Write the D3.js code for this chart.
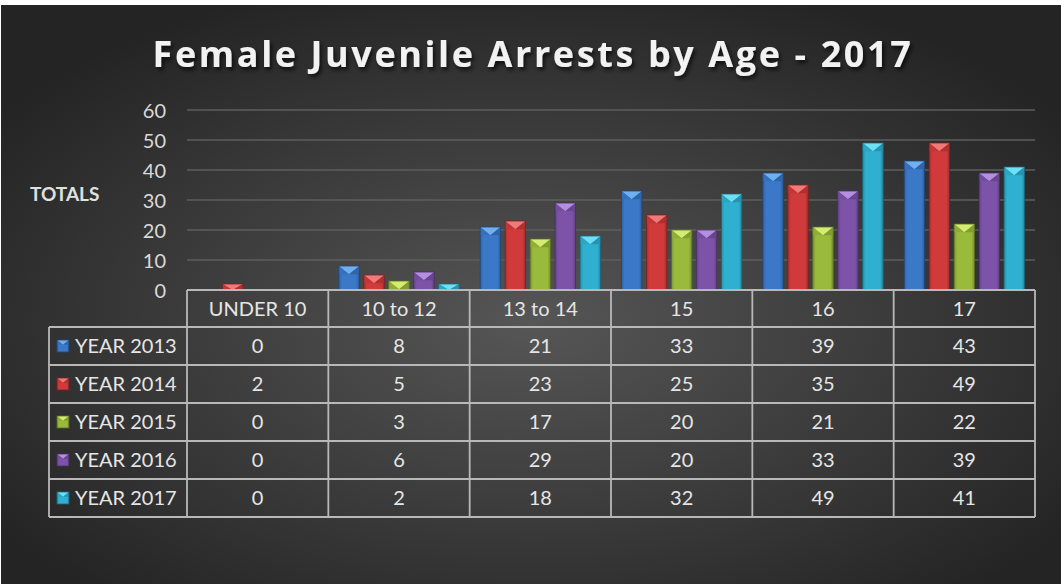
<!DOCTYPE html>
<html><head><meta charset="utf-8">
<script src="https://cdn.jsdelivr.net/npm/d3@7"></script>
<style>html,body{margin:0;padding:0;background:#fff;}svg{display:block;}</style>
</head><body>
<script>
const categories = ["UNDER 10","10 to 12","13 to 14","15","16","17"];
const seriesNames = ["YEAR 2013","YEAR 2014","YEAR 2015","YEAR 2016","YEAR 2017"];
const y2013 = [0,8,21,33,39,43];
const y2014 = [2,5,23,25,35,49];
const y2015 = [0,3,17,20,21,22];
const y2016 = [0,6,29,20,33,39];
const y2017 = [0,2,18,32,49,41];
const yTicks = [0,10,20,30,40,50,60];
const seriesValues = [y2013,y2014,y2015,y2016,y2017];
const colors = ["#3b78c8","#d03a3a","#9aba3c","#7d53a9","#2fb0d0"];
const lights = ["#6fb0f0","#f07a7a","#d4ec70","#b48ee0","#6ee0f5"];

const W=1061,H=584;
const svg=d3.select("body").append("svg").attr("width",W).attr("height",H);
const defs=svg.append("defs");
const bg=defs.append("radialGradient").attr("id","bg").attr("cx","50%").attr("cy","55%").attr("r","62%");
bg.append("stop").attr("offset","0%").attr("stop-color","#565656");
bg.append("stop").attr("offset","100%").attr("stop-color","#242424");
const sh=defs.append("filter").attr("id","sh").attr("x","-10%").attr("y","-30%").attr("width","120%").attr("height","160%");
sh.append("feDropShadow").attr("dx",2).attr("dy",3).attr("stdDeviation",2).attr("flood-color","#000").attr("flood-opacity",0.7);
colors.forEach((c,i)=>{
  const g=defs.append("linearGradient").attr("id","bar"+i).attr("x1","0").attr("x2","1").attr("y1","0").attr("y2","0");
  g.append("stop").attr("offset","0%").attr("stop-color",d3.color(c).darker(0.6));
  g.append("stop").attr("offset","15%").attr("stop-color",c);
  g.append("stop").attr("offset","85%").attr("stop-color",c);
  g.append("stop").attr("offset","100%").attr("stop-color",d3.color(c).darker(0.8));
});

svg.append("rect").attr("width",W).attr("height",H).attr("fill","#fff");
svg.append("rect").attr("x",1).attr("y",5).attr("width",W-1).attr("height",H-5).attr("fill","url(#bg)");

svg.append("text").attr("x",533).attr("y",67).attr("text-anchor","middle")
  .attr("font-family","Open Sans").attr("font-weight","bold").attr("font-size",36)
  .attr("letter-spacing",2.6).attr("fill","#f2f2f2").attr("filter","url(#sh)")
  .text("Female Juvenile Arrests by Age - 2017");

const left=187,right=1035,top0=110,base=290;
const x=d3.scaleBand().domain(categories).range([left,right]).padding(0);
const x1=d3.scaleBand().domain(seriesNames).range([0,x.bandwidth()]).paddingInner(0.18).paddingOuter(0.42);
const y=d3.scaleLinear().domain([0,60]).range([base,top0]);

const grid=svg.append("g");
grid.selectAll("line").data(yTicks.slice(1)).join("line")
  .attr("x1",left).attr("x2",right).attr("y1",d=>y(d)).attr("y2",d=>y(d))
  .attr("stroke","#5e5e5e").attr("stroke-width",1.5);

const yAxis=d3.axisLeft(y).tickValues(yTicks).tickSize(0).tickPadding(0);
const ya=svg.append("g").attr("transform","translate(166,0)").call(yAxis);
ya.select(".domain").remove();
ya.selectAll("text").attr("font-family","Lato").attr("font-size",20).attr("fill","#d9d9d9").attr("dy","0.35em");

svg.append("text").attr("x",30).attr("y",201).attr("font-family","Lato").attr("font-weight","bold")
  .attr("font-size",19).attr("fill","#e0e0e0").text("TOTALS");

function bevelBar(g,bx,by,bw,bh,i){
  if(bh<=0) return;
  g.append("rect").attr("x",bx).attr("y",by).attr("width",bw).attr("height",bh).attr("fill","url(#bar"+i+")");
  const t=Math.min(bw*0.4,bh);
  g.append("path").attr("d",`M${bx},${by}L${bx+bw},${by}L${bx+bw/2},${by+t}Z`).attr("fill",lights[i]);
  g.append("path").attr("d",`M${bx},${by}L${bx+bw/2},${by+t}L${bx},${by+t}Z`).attr("fill",d3.color(colors[i]).darker(0.2));
  g.append("path").attr("d",`M${bx+bw},${by}L${bx+bw/2},${by+t}L${bx+bw},${by+t}Z`).attr("fill",d3.color(colors[i]).darker(0.5));
  g.append("rect").attr("x",bx).attr("y",by).attr("width",bw).attr("height",bh).attr("fill","none")
    .attr("stroke",d3.color(colors[i]).darker(1.5)).attr("stroke-width",0.8);
}

const bars=svg.append("g");
categories.forEach((cat,ci)=>{
  seriesNames.forEach((s,si)=>{
    const v=seriesValues[si][ci];
    const bx=x(cat)+x1(s), bw=x1.bandwidth();
    bevelBar(bars,bx,y(v),bw,base-y(v),si);
  });
});

// data table
const rowH=38, hdrBottom=327, tableLeft=49;
const rowY=i=>hdrBottom+i*rowH;
const tb=svg.append("g").attr("stroke","#b8b8b8").attr("stroke-width",1.8).attr("fill","none");
tb.append("line").attr("x1",left).attr("x2",right).attr("y1",base).attr("y2",base);
for(let i=0;i<=seriesNames.length;i++){
  tb.append("line").attr("x1",tableLeft).attr("x2",right).attr("y1",rowY(i)).attr("y2",rowY(i));
}
tb.append("line").attr("x1",tableLeft).attr("x2",tableLeft).attr("y1",rowY(0)).attr("y2",rowY(5));
categories.forEach(c=>{
  tb.append("line").attr("x1",x(c)).attr("x2",x(c)).attr("y1",base).attr("y2",rowY(5));
});
tb.append("line").attr("x1",right).attr("x2",right).attr("y1",base).attr("y2",rowY(5));

const tt=svg.append("g").attr("font-family","Lato").attr("font-size",20).attr("fill","#e6e6e6");
categories.forEach(c=>{
  tt.append("text").attr("x",x(c)+x.bandwidth()/2).attr("y",(base+hdrBottom)/2).attr("dy","0.35em")
    .attr("text-anchor","middle").text(c);
});
seriesNames.forEach((s,si)=>{
  const cy=rowY(si)+rowH/2;
  bevelBar(svg.append("g"),57,cy-6,12,12,si);
  tt.append("text").attr("x",75).attr("y",cy).attr("dy","0.35em").text(s);
  categories.forEach((c,ci)=>{
    tt.append("text").attr("x",x(c)+x.bandwidth()/2).attr("y",cy).attr("dy","0.35em")
      .attr("text-anchor","middle").text(seriesValues[si][ci]);
  });
});
</script>
</body></html>
